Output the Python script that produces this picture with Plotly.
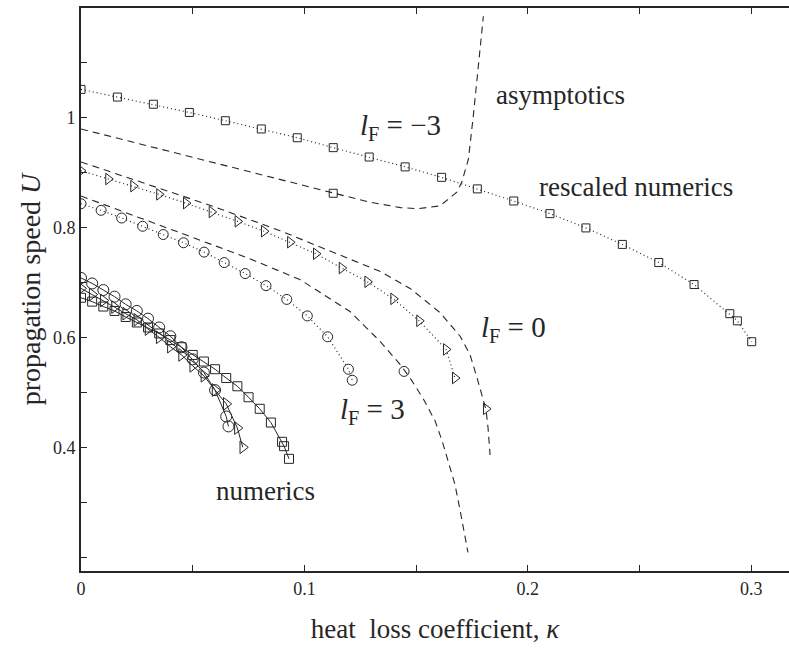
import plotly.graph_objects as go

# ---------------- data ----------------
# rescaled numerics, l_F = -3 (squares, dotted)
sq_res_k = [0, 0.0163, 0.0324, 0.0485, 0.0646, 0.0807, 0.0968, 0.1129, 0.1290, 0.1451,
            0.1614, 0.1774, 0.1937, 0.2099, 0.2260, 0.2423, 0.2586, 0.2744, 0.2904, 0.2938, 0.3002]
sq_res_U = [1.052, 1.038, 1.025, 1.010, 0.995, 0.980, 0.964, 0.946, 0.929, 0.911,
            0.892, 0.871, 0.849, 0.826, 0.800, 0.770, 0.737, 0.697, 0.644, 0.631, 0.593]

# rescaled numerics, l_F = 0 (triangles, dotted)
tri_res_k = [0, 0.0122, 0.0234, 0.0350, 0.0470, 0.0585, 0.0701, 0.0819, 0.0936, 0.1052,
             0.1167, 0.1282, 0.1398, 0.1514, 0.1634, 0.1674]
tri_res_U = [0.904, 0.889, 0.876, 0.861, 0.845, 0.829, 0.812, 0.794, 0.774, 0.753,
             0.727, 0.702, 0.671, 0.631, 0.579, 0.527]

# rescaled numerics, l_F = 3 (circles, dotted)
circ_res_k = [0, 0.0090, 0.0182, 0.0276, 0.0368, 0.0459, 0.0551, 0.0641, 0.0735, 0.0828,
              0.0921, 0.1013, 0.1104, 0.1197, 0.1214]
circ_res_U = [0.844, 0.832, 0.818, 0.803, 0.788, 0.773, 0.756, 0.737, 0.717, 0.695,
              0.670, 0.640, 0.602, 0.543, 0.523]

# single markers lying on the asymptotic curves
sq_asy_k, sq_asy_U = [0.1129], [0.863]
tri_asy_k, tri_asy_U = [0.1813], [0.471]
circ_asy_k, circ_asy_U = [0.1446], [0.539]

# asymptotics (dashed)
asy_m3_k = [0, 0.031, 0.053, 0.076, 0.098, 0.113, 0.129, 0.143, 0.1508, 0.1607,
            0.1682, 0.1704, 0.1734, 0.1756, 0.1778, 0.1801]
asy_m3_U = [0.980, 0.948, 0.925, 0.902, 0.879, 0.863, 0.847, 0.837, 0.835, 0.840,
            0.865, 0.883, 0.925, 1.004, 1.094, 1.185]

asy_0_k = [0, 0.0309, 0.0600, 0.0891, 0.1204, 0.1338, 0.1473, 0.1607, 0.1697, 0.1741,
           0.1773, 0.1800, 0.1813, 0.1822, 0.1831]
asy_0_U = [0.920, 0.878, 0.838, 0.795, 0.744, 0.721, 0.690, 0.646, 0.603, 0.570,
           0.527, 0.490, 0.469, 0.436, 0.387]

asy_3_k = [0, 0.0309, 0.0533, 0.0743, 0.0980, 0.1204, 0.1338, 0.1428, 0.1473, 0.1531,
           0.1585, 0.1616, 0.1643, 0.1674, 0.1697, 0.1719, 0.1732]
asy_3_U = [0.858, 0.811, 0.777, 0.746, 0.706, 0.648, 0.594, 0.552, 0.527, 0.490,
           0.449, 0.413, 0.376, 0.333, 0.286, 0.242, 0.210]

# numerics (solid)
num_circ_k = [0, 0.005, 0.010, 0.015, 0.020, 0.025, 0.030, 0.035, 0.040, 0.045,
              0.050, 0.055, 0.060, 0.065, 0.066]
num_circ_U = [0.709, 0.699, 0.687, 0.675, 0.661, 0.649, 0.635, 0.619, 0.603, 0.583,
              0.561, 0.537, 0.505, 0.457, 0.439]

num_tri_k = [0, 0.005, 0.010, 0.015, 0.020, 0.025, 0.030, 0.035, 0.040, 0.045,
             0.050, 0.055, 0.060, 0.065, 0.070, 0.0724]
num_tri_U = [0.690, 0.679, 0.668, 0.656, 0.644, 0.633, 0.616, 0.601, 0.584, 0.569,
             0.549, 0.531, 0.505, 0.480, 0.436, 0.401]

num_sq_k = [0, 0.005, 0.010, 0.015, 0.020, 0.025, 0.030, 0.035, 0.040, 0.045,
            0.050, 0.055, 0.060, 0.065, 0.070, 0.075, 0.080, 0.085, 0.090, 0.0909, 0.0931]
num_sq_U = [0.673, 0.666, 0.657, 0.649, 0.638, 0.628, 0.619, 0.608, 0.596, 0.583,
            0.569, 0.557, 0.543, 0.527, 0.512, 0.492, 0.471, 0.446, 0.411, 0.403, 0.380]

x_tick_vals = [0, 0.05, 0.1, 0.15, 0.2, 0.25, 0.3]
x_tick_text = ["0", "", "0.1", "", "0.2", "", "0.3"]
y_tick_vals = [0.2, 0.3, 0.4, 0.5, 0.6, 0.7, 0.8, 0.9, 1.0, 1.1]
y_tick_text = ["", "", "0.4", "", "0.6", "", "0.8", "", "1", ""]

# ---------------- figure ----------------
INK = "#262626"
FONT = "Liberation Serif"
fig = go.Figure()


def add(k, U, symbol=None, size=8, dash="solid", width=1.0, mode="lines+markers"):
    fig.add_trace(go.Scatter(
        x=k, y=U, mode=mode,
        line=dict(color=INK, width=width, dash=dash),
        marker=dict(symbol=symbol or "circle-open", size=size, color=INK,
                    line=dict(color=INK, width=1)),
        showlegend=False, hoverinfo="skip"))


DOT = "1px,3px"
DASH = "7px,5px"

# asymptotics
add(asy_m3_k, asy_m3_U, dash=DASH, width=1.1, mode="lines")
add(asy_0_k, asy_0_U, dash=DASH, width=1.1, mode="lines")
add(asy_3_k, asy_3_U, dash=DASH, width=1.1, mode="lines")

# rescaled numerics
add(sq_res_k, sq_res_U, "square-open", 8, DOT, 1.2)
add(tri_res_k, tri_res_U, "triangle-right-open", 10, DOT, 1.2)
add(circ_res_k, circ_res_U, "circle-open", 10, DOT, 1.2)
add(sq_asy_k, sq_asy_U, "square-open", 8, mode="markers")
add(tri_asy_k, tri_asy_U, "triangle-right-open", 10, mode="markers")
add(circ_asy_k, circ_asy_U, "circle-open", 10, mode="markers")

# numerics
add(num_sq_k, num_sq_U, "square-open", 9, "solid", 1.0)
add(num_tri_k, num_tri_U, "triangle-right-open", 11, "solid", 1.0)
add(num_circ_k, num_circ_U, "circle-open", 11, "solid", 1.0)

ann_font = dict(family=FONT, size=27, color=INK)
lf_font = dict(family=FONT, size=29, color=INK)
annotations = [
    dict(x=0.1432, y=0.983, text="<i>l</i><sub>F</sub> = −3", font=lf_font),
    dict(x=0.2146, y=1.041, text="asymptotics", font=ann_font),
    dict(x=0.2484, y=0.8745, text="rescaled numerics", font=ann_font),
    dict(x=0.1934, y=0.617, text="<i>l</i><sub>F</sub> = 0", font=lf_font),
    dict(x=0.1305, y=0.467, text="<i>l</i><sub>F</sub> = 3", font=lf_font),
    dict(x=0.0824, y=0.322, text="numerics", font=ann_font),
]
for a in annotations:
    a.update(xref="x", yref="y", showarrow=False,
             xanchor="center", yanchor="middle")

fig.update_layout(
    width=789, height=649,
    margin=dict(l=81, r=0, t=8, b=78),
    paper_bgcolor="white", plot_bgcolor="white",
    font=dict(family=FONT, color=INK),
    annotations=annotations,
    xaxis=dict(
        range=[0, 0.3169], showline=True, linewidth=2, linecolor=INK,
        mirror="ticks", ticks="inside", ticklen=6, tickwidth=1, tickcolor=INK,
        tickmode="array", tickvals=x_tick_vals, ticktext=x_tick_text,
        tickfont=dict(family=FONT, size=18, color=INK),
        showgrid=False, zeroline=False,
        title=dict(text="heat  loss coefficient, <i>κ</i>",
                   font=dict(family=FONT, size=27, color=INK), standoff=22),
    ),
    yaxis=dict(
        range=[0.176, 1.2], showline=True, linewidth=2, linecolor=INK,
        mirror=False, ticks="inside", ticklen=6, tickwidth=1, tickcolor=INK,
        tickmode="array", tickvals=y_tick_vals, ticktext=y_tick_text,
        tickfont=dict(family=FONT, size=18, color=INK),
        showgrid=False, zeroline=False,
        title=dict(text="propagation speed <i>U</i>",
                   font=dict(family=FONT, size=28, color=INK), standoff=4),
    ),
)

fig.write_html("out.html")
